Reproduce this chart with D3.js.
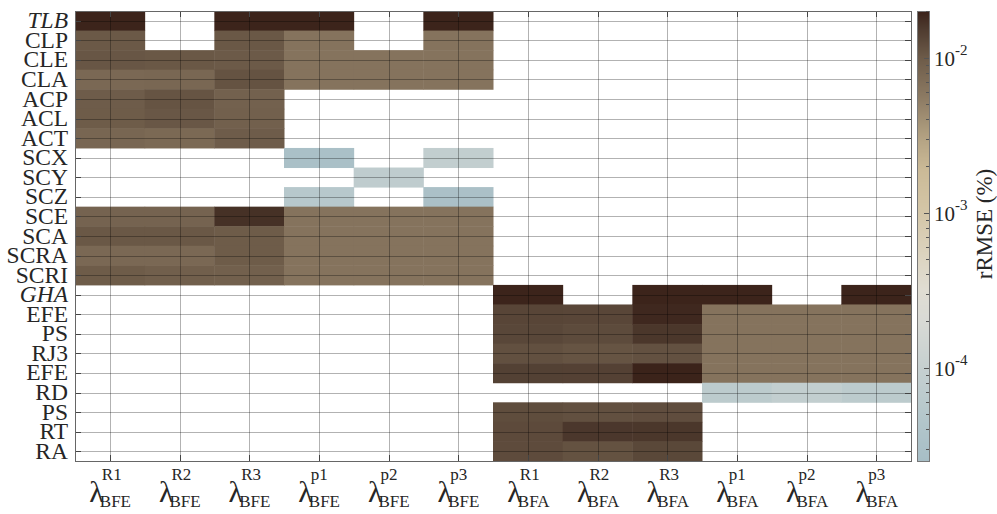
<!DOCTYPE html>
<html><head><meta charset="utf-8">
<script src="https://cdn.jsdelivr.net/npm/d3@7"></script>
<style>body{margin:0;background:#fff}svg{display:block}</style>
</head><body>
<svg id="chart" width="997" height="514"></svg>
<script>
// ---- data ----
const rowLabels = ["TLB","CLP","CLE","CLA","ACP","ACL","ACT","SCX","SCY","SCZ","SCE","SCA","SCRA","SCRI",
                   "GHA","EFE","PS","RJ3","EFE","RD","PS","RT","RA"];
const italicRows = ["TLB","GHA"];
const colSup = ["R1","R2","R3","p1","p2","p3","R1","R2","R3","p1","p2","p3"];
const colSub = ["BFE","BFE","BFE","BFE","BFE","BFE","BFA","BFA","BFA","BFA","BFA","BFA"];
const N = null;
const tail9 = [N,N,N,N,N,N,N,N,N];
const top14 = [N,N,N,N,N,N,N,N,N,N,N,N,N,N];
const valR1BFE = [0.0195,0.0102,0.0107,0.0078,0.0097,0.0098,0.0081,N,N,N,0.0085,0.0104,0.0078,0.0098, ...tail9];
const valR2BFE = [N,N,0.0104,0.0079,0.0110,0.0105,0.0077,N,N,N,0.0085,0.0104,0.0078,0.0093, ...tail9];
const valR3BFE = [0.0195,0.0104,0.0101,0.0111,0.0089,0.0090,0.0097,N,N,N,0.0170,0.0098,0.0098,0.0091, ...tail9];
const valP1BFE = [0.0195,0.0064,0.0064,0.0064,N,N,N,2.9e-5,N,5.3e-5,0.0064,0.0064,0.0064,0.0064, ...tail9];
const valP2BFE = [N,N,0.0064,0.0064,N,N,N,N,7.5e-5,N,0.0064,0.0064,0.0064,0.0064, ...tail9];
const valP3BFE = [0.0195,0.0064,0.0064,0.0064,N,N,N,8.5e-5,N,3.0e-5,0.0064,0.0064,0.0064,0.0064, ...tail9];
const valR1BFA = [...top14, 0.0195,0.0134,0.0131,0.0116,0.0142,N,0.0121,0.0125,0.0123];
const valR2BFA = [...top14, N,0.0132,0.0124,0.0110,0.0141,N,0.0116,0.0159,0.0113];
const valR3BFA = [...top14, 0.0195,0.0187,0.0160,0.0114,0.0198,N,0.0120,0.0160,0.0129];
const valP1BFA = [...top14, 0.0195,0.0064,0.0064,0.0064,0.0064,6.6e-5,N,N,N];
const valP2BFA = [...top14, N,0.0064,0.0064,0.0064,0.0064,8.5e-5,N,N,N];
const valP3BFA = [...top14, 0.0195,0.0064,0.0064,0.0064,0.0064,6.6e-5,N,N,N];
const columns = [valR1BFE,valR2BFE,valR3BFE,valP1BFE,valP2BFE,valP3BFE,valR1BFA,valR2BFA,valR3BFA,valP1BFA,valP2BFA,valP3BFA];
const cbTicks = [1e-2,1e-3,1e-4];
const cbDomain = [2.5e-5, 2e-2];
// colormap stops (fraction of log range, colour)
const cmapT = [0,0.091,0.207,0.313,0.38,0.447,0.553,0.647,0.713,0.802,0.898,0.958,1];
const cmapC = ["#a7bec6","#b3c6cb","#c6d0d0","#d9dad5","#e0ddd3","#ddd5c2","#d4c6a7","#cbba97","#b5a484","#8f7d65","#6c5a48","#4f3c30","#3a2219"];

// ---- layout ----
const L = 75, R = 911, T = 11, B = 461;
const cbX0 = 917, cbX1 = 929;
const svg = d3.select("#chart");
const serif = "Liberation Serif, DejaVu Serif, serif";

const x = d3.scaleBand().domain(d3.range(colSup.length)).range([L,R]);
const y = d3.scaleBand().domain(d3.range(rowLabels.length)).range([T,B]);
const tScale = d3.scaleLinear().domain(cmapT).range(cmapC).interpolate(d3.interpolateRgb);
const logS = d3.scaleLog().domain(cbDomain).range([0,1]).clamp(true);
const color = v => tScale(logS(v));

// cells
const cells = [];
columns.forEach((col,ci)=>col.forEach((v,ri)=>{ if(v!=null) cells.push({ci,ri,v}); }));
svg.append("g").selectAll("rect").data(cells).join("rect")
  .attr("x",d=>x(d.ci)).attr("y",d=>y(d.ri))
  .attr("width",x.bandwidth()+0.5).attr("height",y.bandwidth()+0.5)
  .attr("fill",d=>color(d.v));

// grid
const grid = svg.append("g").attr("stroke","#000").attr("stroke-opacity",0.3).attr("stroke-width",1);
x.domain().forEach(i=>{
  const cx = Math.round(x(i)+x.bandwidth()/2)+0.5;
  grid.append("line").attr("x1",cx).attr("x2",cx).attr("y1",T).attr("y2",B);
});
y.domain().forEach(i=>{
  const cy = Math.round(y(i)+y.bandwidth()/2)+0.5;
  grid.append("line").attr("x1",L).attr("x2",R).attr("y1",cy).attr("y2",cy);
});

// ticks inward
const tk = svg.append("g").attr("stroke","#444").attr("stroke-width",1);
y.domain().forEach(i=>{
  const cy = Math.round(y(i)+y.bandwidth()/2)+0.5;
  tk.append("line").attr("x1",L).attr("x2",L+6).attr("y1",cy).attr("y2",cy);
  tk.append("line").attr("x1",R-6).attr("x2",R).attr("y1",cy).attr("y2",cy);
});
x.domain().forEach(i=>{
  const cx = Math.round(x(i)+x.bandwidth()/2)+0.5;
  tk.append("line").attr("x1",cx).attr("x2",cx).attr("y1",T).attr("y2",T+6);
  tk.append("line").attr("x1",cx).attr("x2",cx).attr("y1",B-6).attr("y2",B);
});
// box
svg.append("rect").attr("x",L+0.5).attr("y",T+0.5).attr("width",R-L).attr("height",B-T)
  .attr("fill","none").attr("stroke","#666").attr("stroke-width",1);

// y labels
svg.append("g").selectAll("text").data(rowLabels).join("text")
  .attr("x",L-7).attr("y",(d,i)=>y(i)+y.bandwidth()/2+7.5)
  .attr("text-anchor","end").attr("font-family",serif).attr("font-size",23.5)
  .attr("font-style",d=>italicRows.includes(d)?"italic":"normal")
  .attr("fill","#262626").text(d=>d);

// x labels
const xl = svg.append("g").attr("font-family",serif).attr("fill","#262626");
colSup.forEach((s,i)=>{
  const cx = x(i)+x.bandwidth()/2;
  xl.append("text").attr("x",cx-6).attr("y",502).attr("text-anchor","end").attr("font-size",30).text("λ");
  xl.append("text").attr("x",cx-8).attr("y",480).attr("font-size",17).text(s);
  xl.append("text").attr("x",cx-10).attr("y",507).attr("font-size",17).text(colSub[i]);
});

// colorbar
const cbY = d3.scaleLog().domain(cbDomain).range([B,T]);
const cb = svg.append("g");
d3.range(T,B).forEach(py=>{
  cb.append("rect").attr("x",cbX0).attr("y",py).attr("width",cbX1-cbX0).attr("height",1.2)
    .attr("fill",color(cbY.invert(py+0.5)));
});
cb.append("rect").attr("x",cbX0+0.5).attr("y",T+0.5).attr("width",cbX1-cbX0).attr("height",B-T)
  .attr("fill","none").attr("stroke","#777");
const minor = [];
for (let e=-5;e<=-1;e++) for (let k=1;k<=9;k++){ const v=k*Math.pow(10,e); if(v>=cbDomain[0]&&v<=cbDomain[1]) minor.push(v); }
cb.append("g").attr("stroke","#555").selectAll("line").data(minor).join("line")
  .attr("x1",d=>cbTicks.includes(d)?cbX1-5:cbX1-3).attr("x2",cbX1)
  .attr("y1",d=>Math.round(cbY(d))+0.5).attr("y2",d=>Math.round(cbY(d))+0.5);
const cbl = svg.append("g").attr("font-family",serif).attr("fill","#262626");
cbTicks.forEach(v=>{
  const yy = cbY(v);
  cbl.append("text").attr("x",934).attr("y",yy+8).attr("font-size",21).text("10");
  cbl.append("text").attr("x",955).attr("y",yy-3).attr("font-size",15).text(String(Math.round(Math.log10(v))));
});
svg.append("text").attr("transform","translate(992,224) rotate(-90)")
  .attr("text-anchor","middle").attr("font-family",serif).attr("font-size",23).attr("fill","#262626")
  .text("rRMSE (%)");
</script>
</body></html>
